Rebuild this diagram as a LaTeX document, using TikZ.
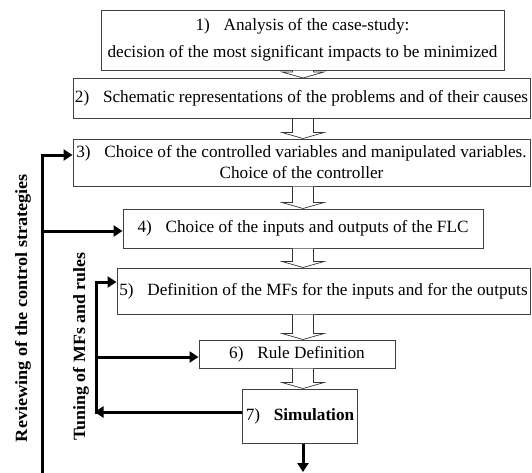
\documentclass[tikz,border=0pt]{standalone}
\usepackage{fontspec}
\setmainfont{Liberation Serif}
\usetikzlibrary{arrows.meta,calc}
\begin{document}
\begin{tikzpicture}[x=1pt,y=-1pt,
  box/.style={draw=black!75, line width=1pt, inner sep=0pt, align=center,
    font=\fontsize{17.2}{21}\selectfont},
  fb/.style={line width=3pt, -{Triangle[length=9pt,width=11pt]}},
  fbl/.style={line width=3pt},
  blk/.style={draw=black!80, line width=0.7pt, fill=white},
  vlab/.style={rotate=90, inner sep=0pt, font=\fontsize{17.2}{20}\selectfont\bfseries}]
\useasboundingbox (0,0) rectangle (532,472);

\node[box, minimum width=403pt, minimum height=60pt] (B1) at (302.5,40)
  {1)\hspace{0.8em}Analysis of the case-study:\\[6pt]decision of the most significant impacts to be minimized};
\node[box, minimum width=457pt, minimum height=40pt] (B2) at (301.5,98.5)
  {2)\hspace{0.8em}Schematic representations of the problems and of their causes};
\node[box, minimum width=457pt, minimum height=47pt] (B3) at (301.5,162.5)
  {3)\hspace{0.8em}Choice of the controlled variables and manipulated variables.\\Choice of the controller};
\node[box, minimum width=360pt, minimum height=39pt] (B4) at (303,228.5)
  {4)\hspace{0.8em}Choice of the inputs and outputs of the FLC};
\node[box, minimum width=413pt, minimum height=46pt] (B5) at (323.5,291)
  {5)\hspace{0.8em}Definition of the MFs for the inputs and for the outputs};
\node[box, minimum width=196pt, minimum height=28pt] (B6) at (297,354)
  {6)\hspace{0.8em}Rule Definition};
\node[box, minimum width=115pt, minimum height=54pt] (B7) at (300,416)
  {7)\hspace{0.8em}\textbf{Simulation}};

% hollow block arrows
\coordinate (ax) at (303,0);
\foreach \a/\b in {B1/B2,B2/B3,B3/B4,B4/B5,B5/B6,B6/B7}{
  \draw[blk] let \p1=(\a.south -| ax), \p2=(\b.north -| ax) in
    (\x1-10.5pt,\y1) -- (\x1-10.5pt,\y2+6pt) -- (\x1-21pt,\y2+6pt) -- (\x1,\y2)
    -- (\x1+21pt,\y2+6pt) -- (\x1+10.5pt,\y2+6pt) -- (\x1+10.5pt,\y1);
}

% output of simulation
\coordinate (out) at (303,472);
\draw[fb] (B7.south -| ax) -- (out);

% reviewing loop
\coordinate (rb) at (42,475);
\coordinate (r3) at (42,155);
\coordinate (r4) at (42,231);
\draw[fbl] (rb) -- (r3);
\draw[fb] ([xshift=-1.5pt]r3) -- (r3 -| B3.west);
\draw[fb] (r4) -- (r4 -| B4.west);

% tuning loop
\coordinate (t7) at (96,412);
\coordinate (t5) at (96,282);
\coordinate (t6) at (96,357);
\draw[fb] (B7.west |- t7) -- ([xshift=-1.5pt]t7);
\draw[fbl] ([yshift=-1.5pt]t7) -- (t5);
\draw[fb] ([xshift=-1.5pt]t5) -- (t5 -| B5.west);
\draw[fb] (t6) -- (t6 -| B6.west);

% labels
\node[vlab] (L1) at (23,308) {\scalebox{1.06}[1]{Reviewing of the control strategies}};
\node[vlab] (L2) at (81,346.5) {\scalebox{1.04}[1]{Tuning of MFs and rules}};
\end{tikzpicture}
\end{document}
